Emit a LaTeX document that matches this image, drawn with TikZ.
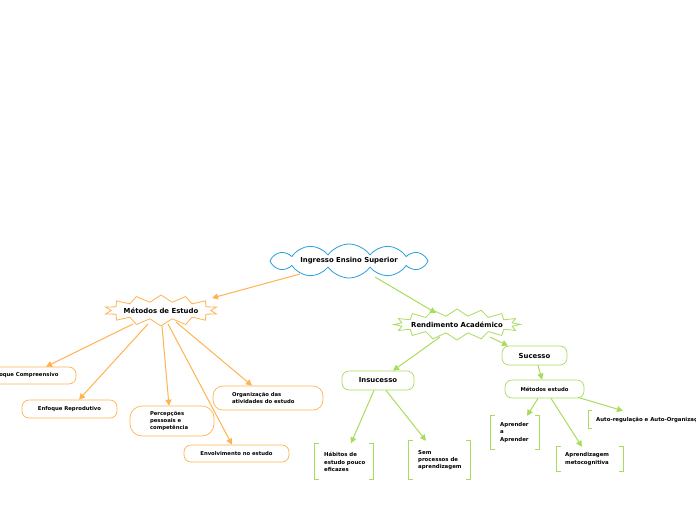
\documentclass[tikz,border=0pt]{standalone}
\usepackage{fontspec}
\setmainfont{DejaVu Sans}
\usetikzlibrary{shapes.symbols,arrows.meta,calc}
\definecolor{orng}{RGB}{255,178,80}
\definecolor{grn}{RGB}{168,220,92}
\definecolor{blu}{RGB}{40,158,218}
\tikzset{
  every node/.style={font=\bfseries},
  rbox/.style={draw, rounded corners=7pt, line width=0.7pt, inner sep=2pt},
  brk/.style={draw=none, inner sep=0pt},
  btxt/.style={anchor=west, align=left, inner sep=0pt, font=\fontsize{5.4}{7.4}\selectfont\bfseries},
  brkline/.style={draw=grn, line width=0.7pt},
  oarr/.style={draw=orng, line width=1pt, -{Triangle[length=6pt,width=6pt]}},
  garr/.style={draw=grn, line width=1pt, -{Triangle[length=6pt,width=6pt]}},
  fbig/.style={font=\fontsize{6.9}{8}\selectfont\bfseries},
  fmid/.style={font=\fontsize{5.3}{6.7}\selectfont\bfseries},
}
\begin{document}
\begin{tikzpicture}[x=1pt,y=-1pt]
\useasboundingbox (0,0) rectangle (696,520);
\clip (0,0) rectangle (696,520);
% main nodes
\node[cloud, draw=blu, line width=0.8pt, cloud puffs=12, cloud puff arc=110, cloud ignores aspect, minimum width=158pt, minimum height=34pt, inner sep=0pt, fbig] (ing) at (349,261) {Ingresso Ensino Superior};
\node[starburst, draw=orng, line width=0.8pt, starburst points=14, starburst point height=7pt, random starburst=0, minimum width=106pt, minimum height=31pt, inner ysep=0pt, inner xsep=-2pt, fbig] (met) at (161,310.5) {Métodos de Estudo};
\node[starburst, draw=grn, line width=0.8pt, starburst points=16, starburst point height=7pt, random starburst=0, minimum width=118pt, minimum height=31pt, inner ysep=0pt, inner xsep=-6pt, fbig] (ren) at (457,324.5) {Rendimento Académico};
% orange boxes
\node[rbox, draw=orng, minimum width=104pt, minimum height=17pt, fmid] (enfc) at (24,375.5) {Enfoque Compreensivo};
\node[rbox, draw=orng, minimum width=95pt, minimum height=18pt, fmid] (enfr) at (69.5,409) {Enfoque Reprodutivo};
\node[rbox, draw=orng, rounded corners=12pt, minimum width=84pt, minimum height=30pt, text width=44pt, align=left, fmid] (perc) at (172,421) {Percepções\\pessoais e\\competência};
\node[rbox, draw=orng, rounded corners=10pt, minimum width=110pt, minimum height=24pt, text width=72pt, align=left, fmid] (org) at (268,398) {Organização das\\atividades do estudo};
\node[rbox, draw=orng, minimum width=105pt, minimum height=17pt, fmid] (env) at (236.5,453.5) {Envolvimento no estudo};
% green boxes
\node[rbox, draw=grn, minimum width=72pt, minimum height=19pt, fbig] (ins) at (378,380.5) {Insucesso};
\node[rbox, draw=grn, minimum width=65pt, minimum height=19pt, fbig] (suc) at (534.5,355.5) {Sucesso};
\node[rbox, draw=grn, minimum width=79pt, minimum height=18pt, fmid] (mest) at (544.5,389) {Métodos estudo};
% bracket boxes
\node[brk, minimum width=58pt, minimum height=36pt] (hab) at (344,461.5) {};
\node[brk, minimum width=61pt, minimum height=38pt] (sem) at (439.5,460) {};
\node[brk, minimum width=48pt, minimum height=33pt] (apr) at (515,432.5) {};
\node[brk, minimum width=66pt, minimum height=24pt] (apm) at (590,459) {};
\node[brk, anchor=west, minimum width=160pt, minimum height=17pt] (auto) at (588,419.5) {};
\node[btxt] (habt) at (324,462) {Hábitos de\\estudo pouco\\eficazes};
\node[btxt] (semt) at (418,460) {Sem\\processos de\\aprendizagem};
\node[btxt] (aprt) at (500,432.5) {Aprender\\a\\Aprender};
\node[btxt] (apmt) at (565,459) {Aprendizagem\\metocognitiva};
\node[btxt] (autot) at (596,419.5) {Auto-regulação e Auto-Organização};
\foreach \n in {hab,sem,apr,apm,auto}{
  \draw[brkline] ([xshift=4pt]\n.north west) -| (\n.south west) -- ([xshift=4pt]\n.south west);
  \draw[brkline] ([xshift=-4pt]\n.north east) -| (\n.south east) -- ([xshift=-4pt]\n.south east);
}
% connectors
\draw[oarr] ($(ing)+(-49,13)$) -- ($(met)+(51,-12.5)$);
\draw[garr] ($(ing)+(26,16)$) -- ($(ren)+(-21,-11.5)$);
\draw[oarr] ($(met)+(-28,13.5)$) -- ($(enfc.north)+(22,0)$);
\draw[oarr] ($(met)+(-13,13.5)$) -- ($(enfr.north)+(9.5,0)$);
\draw[oarr] ($(met)+(1,15.5)$) -- ($(perc.north)+(-3,0)$);
\draw[oarr] ($(met)+(7,13.5)$) -- ($(env.north)+(-4.5,0)$);
\draw[oarr] ($(met)+(15,11.5)$) -- ($(org.north)+(-16,0)$);
\draw[garr] ($(ren)+(-17,12.5)$) -- ($(ins.north)+(15,0)$);
\draw[garr] ($(ren)+(33,12.5)$) -- ($(suc.north)+(-26.5,0)$);
\draw[garr] ($(ins.south)+(-4,0)$) -- ($(hab.north)+(7,0)$);
\draw[garr] ($(ins.south)+(8,0)$) -- ($(sem.north)+(-13.5,0)$);
\draw[garr] ($(suc.south)+(3.5,0)$) -- ($(mest.north)+(-2.5,0)$);
\draw[garr] ($(mest.south)+(-6.5,0)$) -- ($(apr.north)+(12,0)$);
\draw[garr] ($(mest.south)+(6.5,0)$) -- ($(apm.north)+(-8,0)$);
\draw[garr] ($(mest.south)+(33.5,-1)$) -- ($(auto.north west)+(35,0)$);
\end{tikzpicture}
\end{document}
